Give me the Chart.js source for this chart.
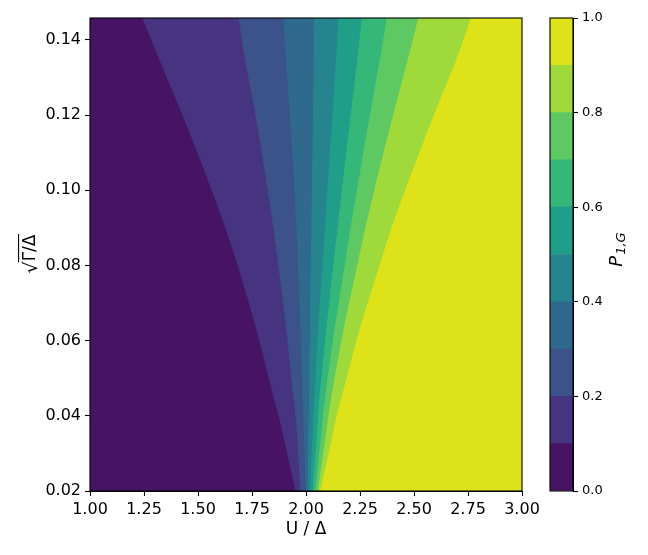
<!DOCTYPE html>
<html>
<head>
<meta charset="utf-8">
<script src="https://cdn.jsdelivr.net/npm/chart.js@4/dist/chart.umd.min.js"></script>
<style>
  body { margin: 0; background: #fff; }
  #wrap { position: relative; width: 648px; height: 555px; }
  #main { position: absolute; left: 0; top: 0; }
  #cbar { position: absolute; left: 540px; top: 0; }
</style>
</head>
<body>
<div id="wrap">
  <canvas id="main" width="648" height="555"></canvas>
  <canvas id="cbar" width="108" height="555"></canvas>
</div>
<script>
// sqrt(Gamma)/Delta values where the boundaries were read
const yRows = [0.02, 0.0323, 0.0389, 0.0469, 0.0629, 0.0788, 0.0895, 0.1054, 0.1214, 0.1373, 0.1458]

// U/Delta position of each contour line P = 0.1 ... 0.9 at the rows above
const b1 = [1.954, 1.906, 1.880, 1.843, 1.773, 1.692, 1.632, 1.530, 1.420, 1.305, 1.245]
const b2 = [1.976, 1.964, 1.956, 1.940, 1.911, 1.877, 1.852, 1.810, 1.764, 1.712, 1.690]
const b3 = [2.000, 1.995, 1.991, 1.985, 1.977, 1.966, 1.958, 1.944, 1.926, 1.907, 1.898]
const b4 = [2.010, 2.013, 2.015, 2.017, 2.020, 2.024, 2.027, 2.031, 2.035, 2.039, 2.040]
const b5 = [2.022, 2.031, 2.036, 2.043, 2.058, 2.077, 2.089, 2.107, 2.126, 2.144, 2.152]
const b6 = [2.034, 2.050, 2.057, 2.068, 2.096, 2.126, 2.147, 2.179, 2.212, 2.245, 2.260]
const b7 = [2.046, 2.068, 2.079, 2.095, 2.134, 2.178, 2.207, 2.254, 2.302, 2.352, 2.376]
const b8 = [2.057, 2.088, 2.103, 2.125, 2.176, 2.235, 2.275, 2.341, 2.412, 2.485, 2.522]
const b9 = [2.068, 2.116, 2.140, 2.176, 2.250, 2.336, 2.395, 2.496, 2.604, 2.715, 2.765]
const boundaries = [b1, b2, b3, b4, b5, b6, b7, b8, b9]

// contour levels and tick labels
const levels = [0, 0.1, 0.2, 0.3, 0.4, 0.5, 0.6, 0.7, 0.8, 0.9, 1.0]
const xTicks = [1.0, 1.25, 1.5, 1.75, 2.0, 2.25, 2.5, 2.75, 3.0]
const yTicks = [0.02, 0.04, 0.06, 0.08, 0.10, 0.12, 0.14]
const cbTicks = [0.0, 0.2, 0.4, 0.6, 0.8, 1.0]

// viridis sampled at the middle of each band
const bandColors = ['#471365', '#463480', '#3b528b', '#30698e', '#25848e',
                    '#1f9e89', '#35b779', '#5ec962', '#9fda3a', '#dde318']

const FONT = '"DejaVu Sans", sans-serif'
const X_MAX = 3

// frame + background + custom y title for main plot
const mainExtras = {
    id: 'mainExtras',
    beforeDatasetsDraw(chart) {
        const {ctx, chartArea: a} = chart
        ctx.save()
        ctx.fillStyle = bandColors[0]
        ctx.fillRect(a.left, a.top, a.right - a.left, a.bottom - a.top)
        ctx.restore()
    },
    afterDraw(chart) {
        const {ctx, chartArea: a} = chart
        ctx.save()
        ctx.strokeStyle = '#000'
        ctx.lineWidth = 1.1
        ctx.strokeRect(a.left, a.top, a.right - a.left, a.bottom - a.top)
        // y axis title: sqrt(Gamma)/Delta
        ctx.translate(35, 254)
        ctx.rotate(-Math.PI / 2)
        ctx.fillStyle = '#000'
        ctx.textBaseline = 'alphabetic'
        ctx.font = '17px ' + FONT
        const w2 = ctx.measureText('Γ/Δ').width
        ctx.font = '19px ' + FONT
        const w1 = ctx.measureText('√').width
        const x0 = -(w1 + w2) / 2
        ctx.fillText('√', x0, 2)
        ctx.font = '17px ' + FONT
        ctx.fillText('Γ/Δ', x0 + w1, 0)
        ctx.fillRect(x0 + w1 - 1, -17, w2 + 1.5, 1.1)
        ctx.restore()
    }
}

// each band is filled from its lower contour line to the right edge,
// higher bands are drawn on top
const datasets = boundaries.map((b, i) => ({
    data: b.map((x, j) => ({x: x, y: yRows[j]})),
    backgroundColor: bandColors[i + 1],
    borderColor: bandColors[i + 1],
    borderWidth: 1,
    pointRadius: 0,
    cubicInterpolationMode: 'monotone',
    fill: { value: X_MAX },
    order: 10 - i
}))

new Chart(document.getElementById('main'), {
    type: 'line',
    data: { datasets: datasets },
    options: {
        indexAxis: 'y',
        responsive: false,
        animation: false,
        layout: { padding: { top: 18, right: 126, left: 0, bottom: 0 } },
        scales: {
            x: {
                type: 'linear', position: 'bottom', min: 1, max: X_MAX,
                afterBuildTicks: s => { s.ticks = xTicks.map(v => ({value: v})) },
                afterFit: s => { s.height = 64 },
                ticks: { color: '#000', padding: 4, maxRotation: 0, font: { family: FONT, size: 16 },
                         callback: v => v.toFixed(2) },
                grid: { drawOnChartArea: false, tickLength: 5, color: '#000', tickWidth: 1.1 },
                border: { color: '#000' },
                title: { display: true, text: 'U / Δ', color: '#000',
                         font: { family: FONT, size: 17 }, padding: { top: 0, bottom: 15 } }
            },
            y: {
                type: 'linear', position: 'left', min: 0.02, max: 0.1458,
                afterBuildTicks: s => { s.ticks = yTicks.map(v => ({value: v})) },
                afterFit: s => { s.width = 90 },
                ticks: { color: '#000', padding: 4, font: { family: FONT, size: 16 },
                         callback: v => v.toFixed(2) },
                grid: { drawOnChartArea: false, tickLength: 5, color: '#000', tickWidth: 1.1 },
                border: { color: '#000' }
            }
        },
        plugins: {
            legend: { display: false },
            tooltip: { enabled: false },
            filler: { propagate: false }
        }
    },
    plugins: [mainExtras]
})

// colorbar
const cbExtras = {
    id: 'cbExtras',
    afterDraw(chart) {
        const {ctx, chartArea: a} = chart
        ctx.save()
        ctx.strokeStyle = '#000'
        ctx.lineWidth = 1.1
        ctx.strokeRect(a.left, a.top, a.right - a.left, a.bottom - a.top)
        // title P_{1,G}
        ctx.translate(82, 250)
        ctx.rotate(-Math.PI / 2)
        ctx.fillStyle = '#000'
        ctx.textBaseline = 'alphabetic'
        ctx.font = 'italic 18px ' + FONT
        const wp = ctx.measureText('P').width
        ctx.font = 'italic 13px ' + FONT
        const ws = ctx.measureText('1,G').width
        const x0 = -(wp + ws) / 2
        ctx.font = 'italic 18px ' + FONT
        ctx.fillText('P', x0, 0)
        ctx.font = 'italic 13px ' + FONT
        ctx.fillText('1,G', x0 + wp + 1, 3)
        ctx.restore()
    }
}

new Chart(document.getElementById('cbar'), {
    type: 'bar',
    data: {
        labels: [''],
        datasets: bandColors.map((c, i) => ({
            data: [[levels[i], levels[i + 1]]],
            backgroundColor: c,
            borderWidth: 0,
            barPercentage: 1,
            categoryPercentage: 1,
            grouped: false
        }))
    },
    options: {
        responsive: false,
        animation: false,
        layout: { padding: { top: 18, left: 10, right: 0, bottom: 64 } },
        scales: {
            x: { display: false },
            y: {
                position: 'right', min: 0, max: 1,
                afterBuildTicks: s => { s.ticks = cbTicks.map(v => ({value: v})) },
                afterFit: s => { s.width = 75 },
                ticks: { color: '#000', padding: 4, font: { family: FONT, size: 13 },
                         callback: v => v.toFixed(1) },
                grid: { drawOnChartArea: false, tickLength: 5, color: '#000', tickWidth: 1.1 },
                border: { color: '#000' }
            }
        },
        plugins: {
            legend: { display: false },
            tooltip: { enabled: false }
        }
    },
    plugins: [cbExtras]
})
</script>
</body>
</html>
